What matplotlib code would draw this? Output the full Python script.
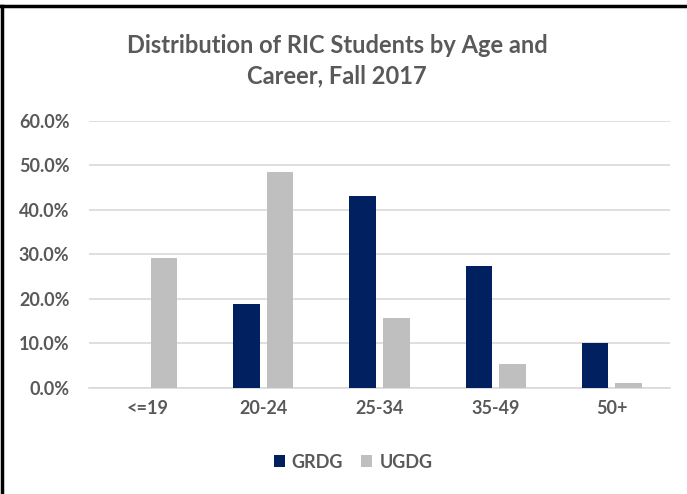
import matplotlib
matplotlib.use("Agg")
import matplotlib.pyplot as plt
from matplotlib.lines import Line2D
from matplotlib.ticker import FuncFormatter
import numpy as np

categories = ["<=19", "20-24", "25-34", "35-49", "50+"]
grdg = [0.0, 18.9, 43.2, 27.4, 10.1]
ugdg = [29.1, 48.6, 15.7, 5.3, 1.1]
series_names = ["GRDG", "UGDG"]
title = "Distribution of RIC Students by Age and\nCareer, Fall 2017"

plt.rcParams['font.family'] = ['Lato', 'DejaVu Sans']
text_color = "#595959"

fig = plt.figure(figsize=(6.87, 4.94), dpi=100)
ax = fig.add_axes([89/687, 1-387.7/494, (670-89)/687, (387.7-121)/494])

x = np.arange(len(categories))
w = 0.229
gap = 0.06
off = (w + gap) / 2
ax.bar(x - off, grdg, width=w, color="#002060", label=series_names[0], zorder=3)
ax.bar(x + off, ugdg, width=w, color="#BFBFBF", label=series_names[1], zorder=3)

ax.set_xlim(-0.5, len(categories) - 0.5)
ax.set_ylim(0, 60)
ax.set_yticks(np.arange(0, 61, 10))
ax.yaxis.set_major_formatter(FuncFormatter(lambda v, p: f"{v:.1f}%"))
ax.set_xticks(x)
ax.set_xticklabels(categories)
ax.grid(axis="y", color="#D9D9D9", linewidth=1.2, zorder=0)
for s in ["top", "right", "left"]:
    ax.spines[s].set_visible(False)
ax.spines["bottom"].set_color("#D9D9D9")
ax.spines["bottom"].set_linewidth(1.2)
ax.tick_params(axis="both", length=0, labelsize=13, colors=text_color)
ax.tick_params(axis="y", pad=14)
ax.tick_params(axis="x", pad=9)
for lab in ax.get_xticklabels() + ax.get_yticklabels():
    lab.set_fontweight("bold")

fig.text(337/687, 1-60.5/494, title, ha="center", va="center", fontsize=17,
         color=text_color, fontweight="bold", linespacing=1.38)

leg = fig.legend(loc="center", bbox_to_anchor=(353/687, 1-462/494), ncol=2,
                 frameon=False, fontsize=13, handlelength=0.6, handleheight=0.6,
                 handletextpad=0.4, columnspacing=1.0)
for t in leg.get_texts():
    t.set_color(text_color)
    t.set_fontweight("bold")

fig.add_artist(Line2D([0, 1], [1-6/494, 1-6/494], transform=fig.transFigure,
                      color="black", linewidth=2.5))
fig.add_artist(Line2D([2/687, 2/687], [0, 1-6/494], transform=fig.transFigure,
                      color="black", linewidth=2.5))

fig.savefig("out.png", dpi=100, facecolor="white")
